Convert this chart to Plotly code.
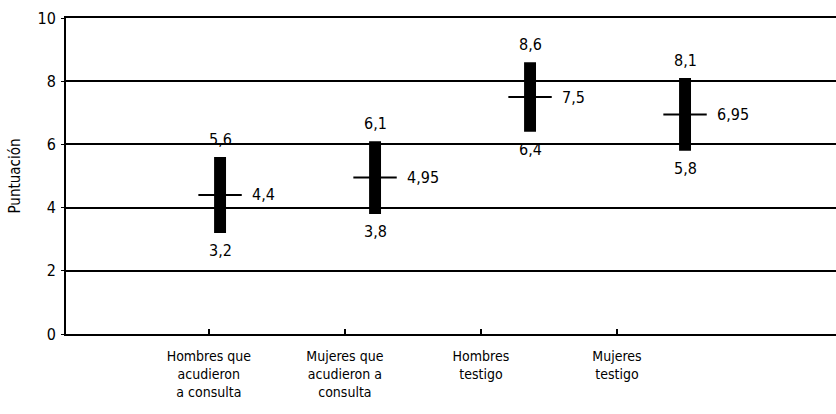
import plotly.graph_objects as go

categories = ["Hombres que<br>acudieron<br>a consulta",
              "Mujeres que<br>acudieron a<br>consulta",
              "Hombres<br>testigo",
              "Mujeres<br>testigo"]
high = [5.6, 6.1, 8.6, 8.1]
low = [3.2, 3.8, 6.4, 5.8]
mean = [4.4, 4.95, 7.5, 6.95]
ytick_vals = [0, 2, 4, 6, 8, 10]

FONT = "DejaVu Sans Condensed, Liberation Sans Narrow, Arial Narrow, sans-serif"
pos = list(range(len(categories)))

def fmt(v):
    return ("%g" % v).replace(".", ",")

fig = go.Figure()
# invisible anchor trace so the category axis is drawn
fig.add_trace(go.Scatter(x=pos, y=[0] * len(pos), mode="markers",
                         marker=dict(opacity=0), showlegend=False, hoverinfo="skip"))
fig.add_trace(go.Bar(x=pos, y=[h - l for h, l in zip(high, low)], base=low,
                     width=0.077, marker=dict(color="black", line=dict(width=0)),
                     xaxis="x2", showlegend=False, hoverinfo="skip"))
fig.add_trace(go.Scatter(x=pos, y=mean, mode="markers", xaxis="x2",
                         marker=dict(symbol="line-ew-open", size=31, color="black",
                                     line=dict(color="black", width=2)),
                         showlegend=False, hoverinfo="skip"))

ann = []
for p, h, l, m in zip(pos, high, low, mean):
    ann.append(dict(x=p, y=h, xref="x2", yref="y", text=fmt(h), showarrow=False,
                    yshift=18, font=dict(size=16, family=FONT, color="black")))
    ann.append(dict(x=p, y=l, xref="x2", yref="y", text=fmt(l), showarrow=False,
                    yshift=-18, font=dict(size=16, family=FONT, color="black")))
    ann.append(dict(x=p, y=m, xref="x2", yref="y", text=fmt(m), showarrow=False,
                    xanchor="left", xshift=30, font=dict(size=16, family=FONT, color="black")))

fig.update_layout(
    width=836, height=414,
    margin=dict(l=66, r=0, t=18, b=80),
    paper_bgcolor="white", plot_bgcolor="white",
    font=dict(family=FONT, color="black"),
    annotations=ann,
    hovermode=False,
    xaxis=dict(range=[-1.05, 4.61], tickvals=pos, ticktext=categories,
               ticks="inside", ticklen=5, tickwidth=1.5, tickcolor="black",
               showline=True, linecolor="black", linewidth=2, mirror=True,
               showgrid=False, zeroline=False, ticklabelstandoff=8,
               tickfont=dict(size=14, family=FONT, color="black")),
    xaxis2=dict(range=[-0.994, 3.974], overlaying="x", visible=False, showline=False,
                showgrid=False, zeroline=False),
    yaxis=dict(range=[0, 10], tickvals=ytick_vals, ticks="outside", ticklen=3,
               tickcolor="black", showline=True, linecolor="black", linewidth=2,
               showgrid=True, gridcolor="black", gridwidth=2, zeroline=False,
               ticklabelstandoff=2,
               tickfont=dict(size=16, family=FONT, color="black"),
               title=dict(text="Puntuación", font=dict(size=15, family=FONT, color="black"),
                          standoff=13)),
)
fig.write_html("out.html", config={"displayModeBar": False},
               post_script="document.body.style.margin='0';")
